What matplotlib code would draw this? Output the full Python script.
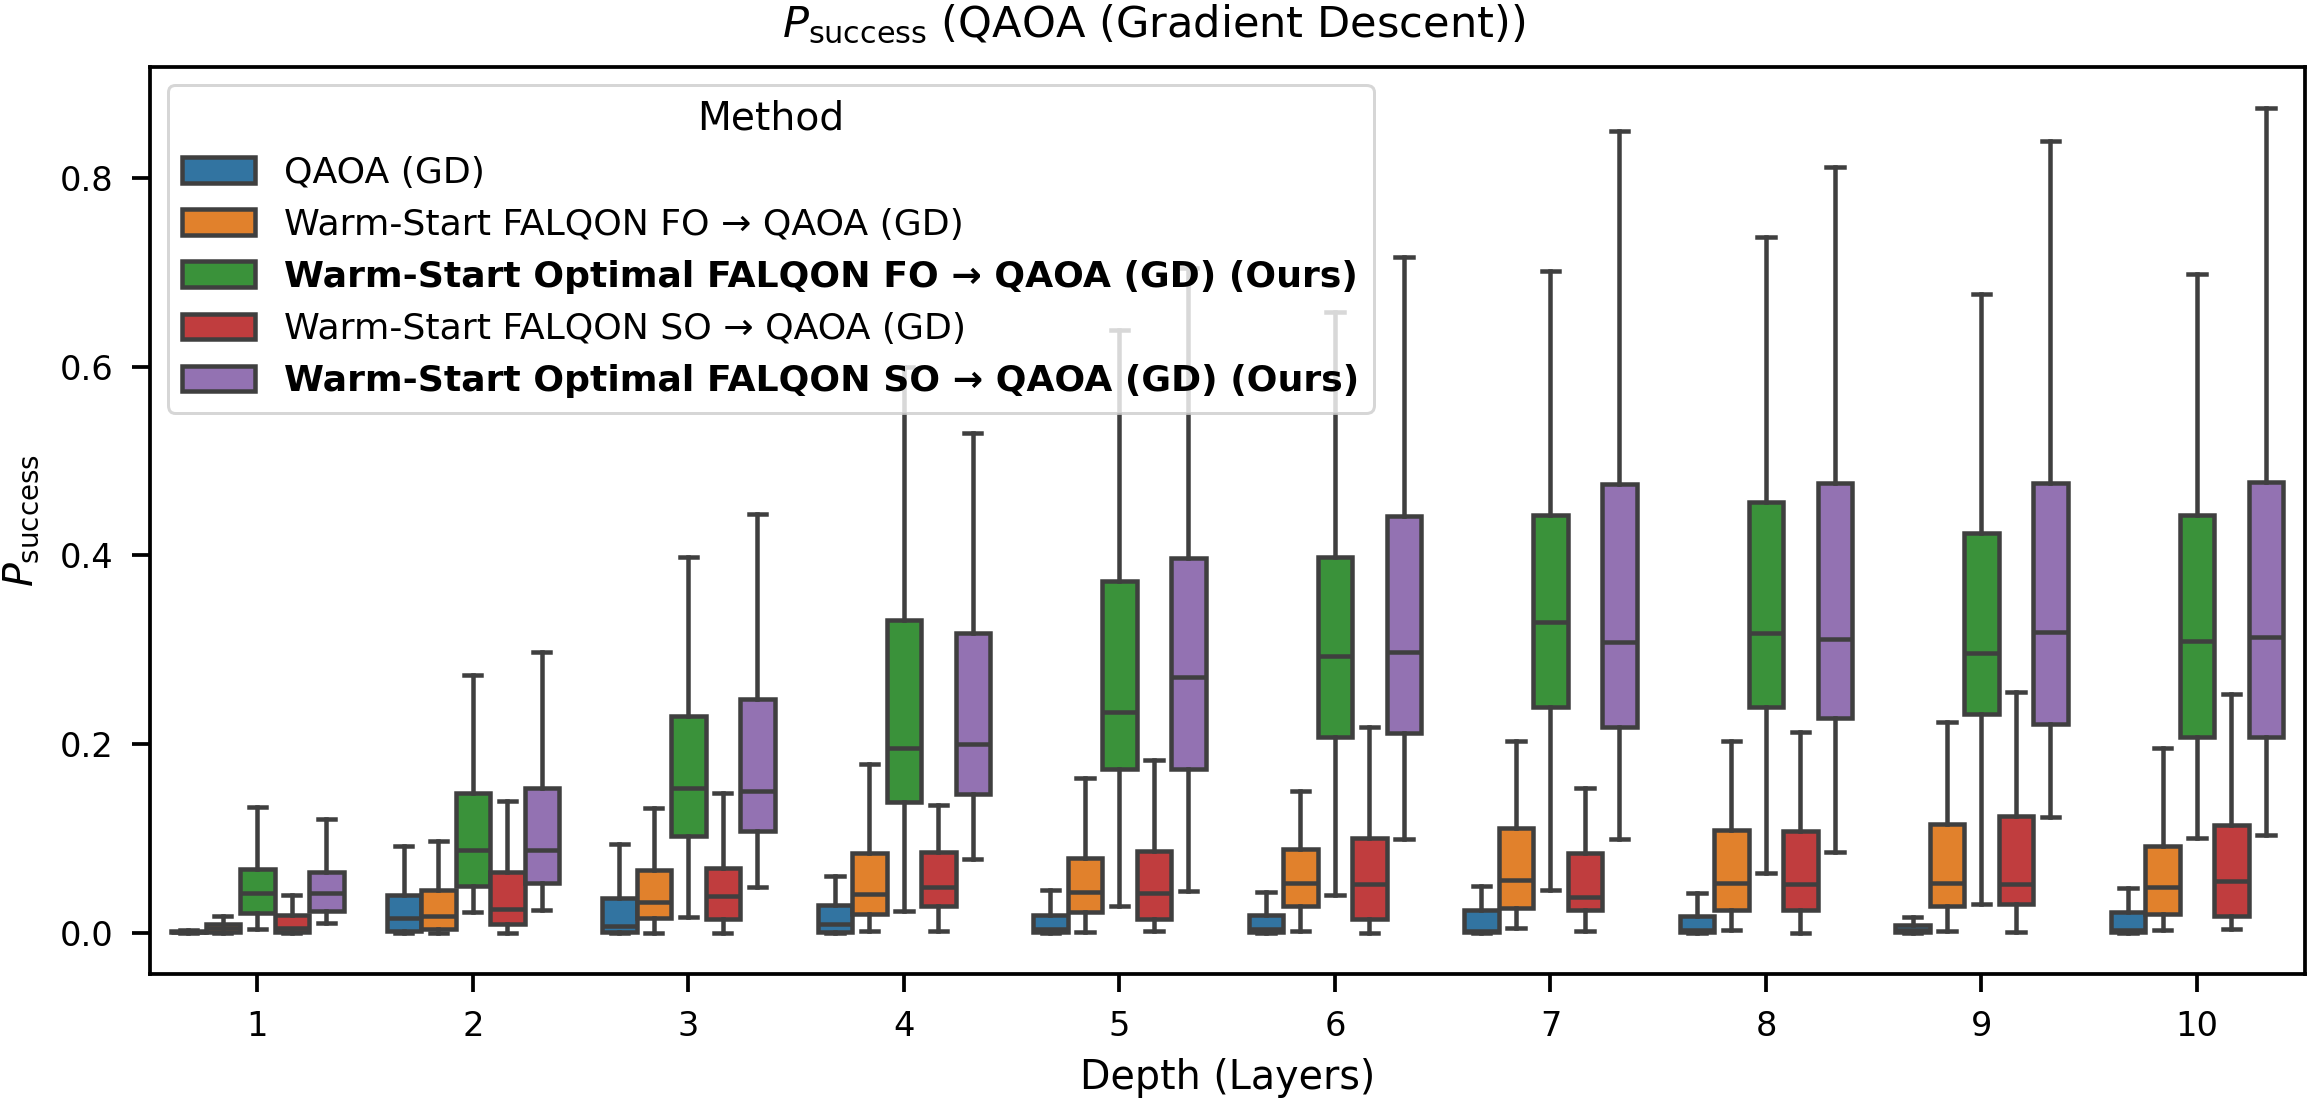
import numpy as np
import matplotlib
matplotlib.use("Agg")
import matplotlib.pyplot as plt
from matplotlib.patches import Patch

# depth values on the x axis
depths = [1, 2, 3, 4, 5, 6, 7, 8, 9, 10]

# per depth: (whisker low, q1, median, q3, whisker high)
qaoa_gd = [
    (0.0, 0.0003, 0.001, 0.002, 0.003),
    (0.0, 0.002, 0.016, 0.040, 0.092),
    (0.0, 0.001, 0.0075, 0.037, 0.094),
    (0.0, 0.001, 0.009, 0.029, 0.060),
    (0.0, 0.001, 0.004, 0.019, 0.045),
    (0.0, 0.001, 0.004, 0.019, 0.043),
    (0.0, 0.0005, 0.002, 0.024, 0.050),
    (0.0, 0.0005, 0.0025, 0.018, 0.042),
    (0.0, 0.0005, 0.003, 0.008, 0.017),
    (0.0, 0.0005, 0.0025, 0.022, 0.047),
]
ws_fo = [
    (0.0, 0.0005, 0.005, 0.0097, 0.0176),
    (0.0, 0.0044, 0.0176, 0.045, 0.097),
    (0.0, 0.0154, 0.033, 0.066, 0.132),
    (0.002, 0.020, 0.0415, 0.084, 0.179),
    (0.001, 0.022, 0.043, 0.0795, 0.164),
    (0.002, 0.028, 0.0525, 0.089, 0.150),
    (0.0046, 0.0265, 0.0556, 0.111, 0.2035),
    (0.0025, 0.0244, 0.053, 0.1086, 0.2035),
    (0.002, 0.028, 0.053, 0.115, 0.223),
    (0.0025, 0.020, 0.0485, 0.092, 0.196),
]
ws_opt_fo = [
    (0.0035, 0.021, 0.042, 0.068, 0.133),
    (0.022, 0.050, 0.088, 0.148, 0.273),
    (0.0167, 0.102, 0.153, 0.230, 0.398),
    (0.023, 0.138, 0.196, 0.331, 0.599),
    (0.028, 0.174, 0.234, 0.373, 0.639),
    (0.040, 0.2075, 0.293, 0.398, 0.658),
    (0.0456, 0.2396, 0.329, 0.443, 0.7016),
    (0.0637, 0.2396, 0.318, 0.456, 0.737),
    (0.030, 0.2318, 0.296, 0.424, 0.677),
    (0.1008, 0.2077, 0.309, 0.443, 0.698),
]
ws_so = [
    (0.0, 0.001, 0.005, 0.0185, 0.040),
    (0.0, 0.0088, 0.025, 0.064, 0.140),
    (0.0, 0.015, 0.039, 0.069, 0.148),
    (0.002, 0.028, 0.0486, 0.086, 0.135),
    (0.002, 0.0146, 0.042, 0.087, 0.183),
    (0.0, 0.0146, 0.0517, 0.100, 0.2185),
    (0.002, 0.0237, 0.038, 0.085, 0.153),
    (0.0, 0.0237, 0.052, 0.108, 0.213),
    (0.001, 0.030, 0.052, 0.124, 0.2555),
    (0.004, 0.0177, 0.0548, 0.114, 0.253),
]
ws_opt_so = [
    (0.0106, 0.023, 0.042, 0.064, 0.121),
    (0.024, 0.053, 0.088, 0.153, 0.297),
    (0.048, 0.108, 0.150, 0.248, 0.444),
    (0.078, 0.147, 0.200, 0.318, 0.530),
    (0.044, 0.174, 0.271, 0.397, 0.704),
    (0.0993, 0.212, 0.297, 0.442, 0.716),
    (0.099, 0.218, 0.308, 0.476, 0.850),
    (0.086, 0.2275, 0.311, 0.477, 0.811),
    (0.123, 0.221, 0.319, 0.477, 0.8395),
    (0.1037, 0.207, 0.313, 0.478, 0.874),
]

methods = [
    "QAOA (GD)",
    "Warm-Start FALQON FO \u2192 QAOA (GD)",
    "Warm-Start Optimal FALQON FO \u2192 QAOA (GD) (Ours)",
    "Warm-Start FALQON SO \u2192 QAOA (GD)",
    "Warm-Start Optimal FALQON SO \u2192 QAOA (GD) (Ours)",
]
series = [qaoa_gd, ws_fo, ws_opt_fo, ws_so, ws_opt_so]
colors = ["#3274a1", "#e1812c", "#3a923a", "#c03d3e", "#9372b2"]
line_col = "#3f3f3f"

plt.rcParams["font.family"] = ["DejaVu Sans"]

fig = plt.figure(figsize=(2308 / 216, 1103 / 216), dpi=216)
ax = fig.add_axes([0.0648, 0.117, 0.9338, 0.8225])

n = len(methods)
w = 0.8 / n
x = np.arange(len(depths))
for i, (name, data, col) in enumerate(zip(methods, series, colors)):
    stats = [dict(whislo=s[0], q1=s[1], med=s[2], q3=s[3], whishi=s[4]) for s in data]
    pos = x - 0.4 + w / 2 + i * w
    ax.bxp(stats, positions=pos, widths=w, capwidths=w / 2,
           patch_artist=True, showfliers=False, manage_ticks=False,
           boxprops=dict(facecolor=col, edgecolor=line_col, linewidth=1.5),
           medianprops=dict(color=line_col, linewidth=1.5),
           whiskerprops=dict(color=line_col, linewidth=1.5),
           capprops=dict(color=line_col, linewidth=1.5))

ax.set_xlim(-0.5, len(depths) - 0.5)
ax.set_ylim(-0.0437, 0.9177)
ax.set_xticks(x)
ax.set_xticklabels([str(d) for d in depths])
ax.tick_params(labelsize=11.2, length=6, width=1.25, pad=6)
for s in ax.spines.values():
    s.set_linewidth(1.25)

ax.set_xlabel("Depth (Layers)", fontsize=13.2, labelpad=5)
ax.set_ylabel(r"$P_{\mathrm{success}}$", fontsize=13.2, labelpad=6)
fig.suptitle(r"$P_{\mathrm{success}}$ (QAOA (Gradient Descent))", fontsize=14.4,
             x=0.5, y=0.997, va="top")

handles = [Patch(facecolor=c, edgecolor=line_col, linewidth=1.5) for c in colors]
leg = ax.legend(handles, methods, title="Method", loc="upper left",
                fontsize=12.1, title_fontsize=13.1)
for t in leg.get_texts():
    if "Ours" in t.get_text():
        t.set_fontweight("bold")

fig.savefig("out.png", dpi=216)
